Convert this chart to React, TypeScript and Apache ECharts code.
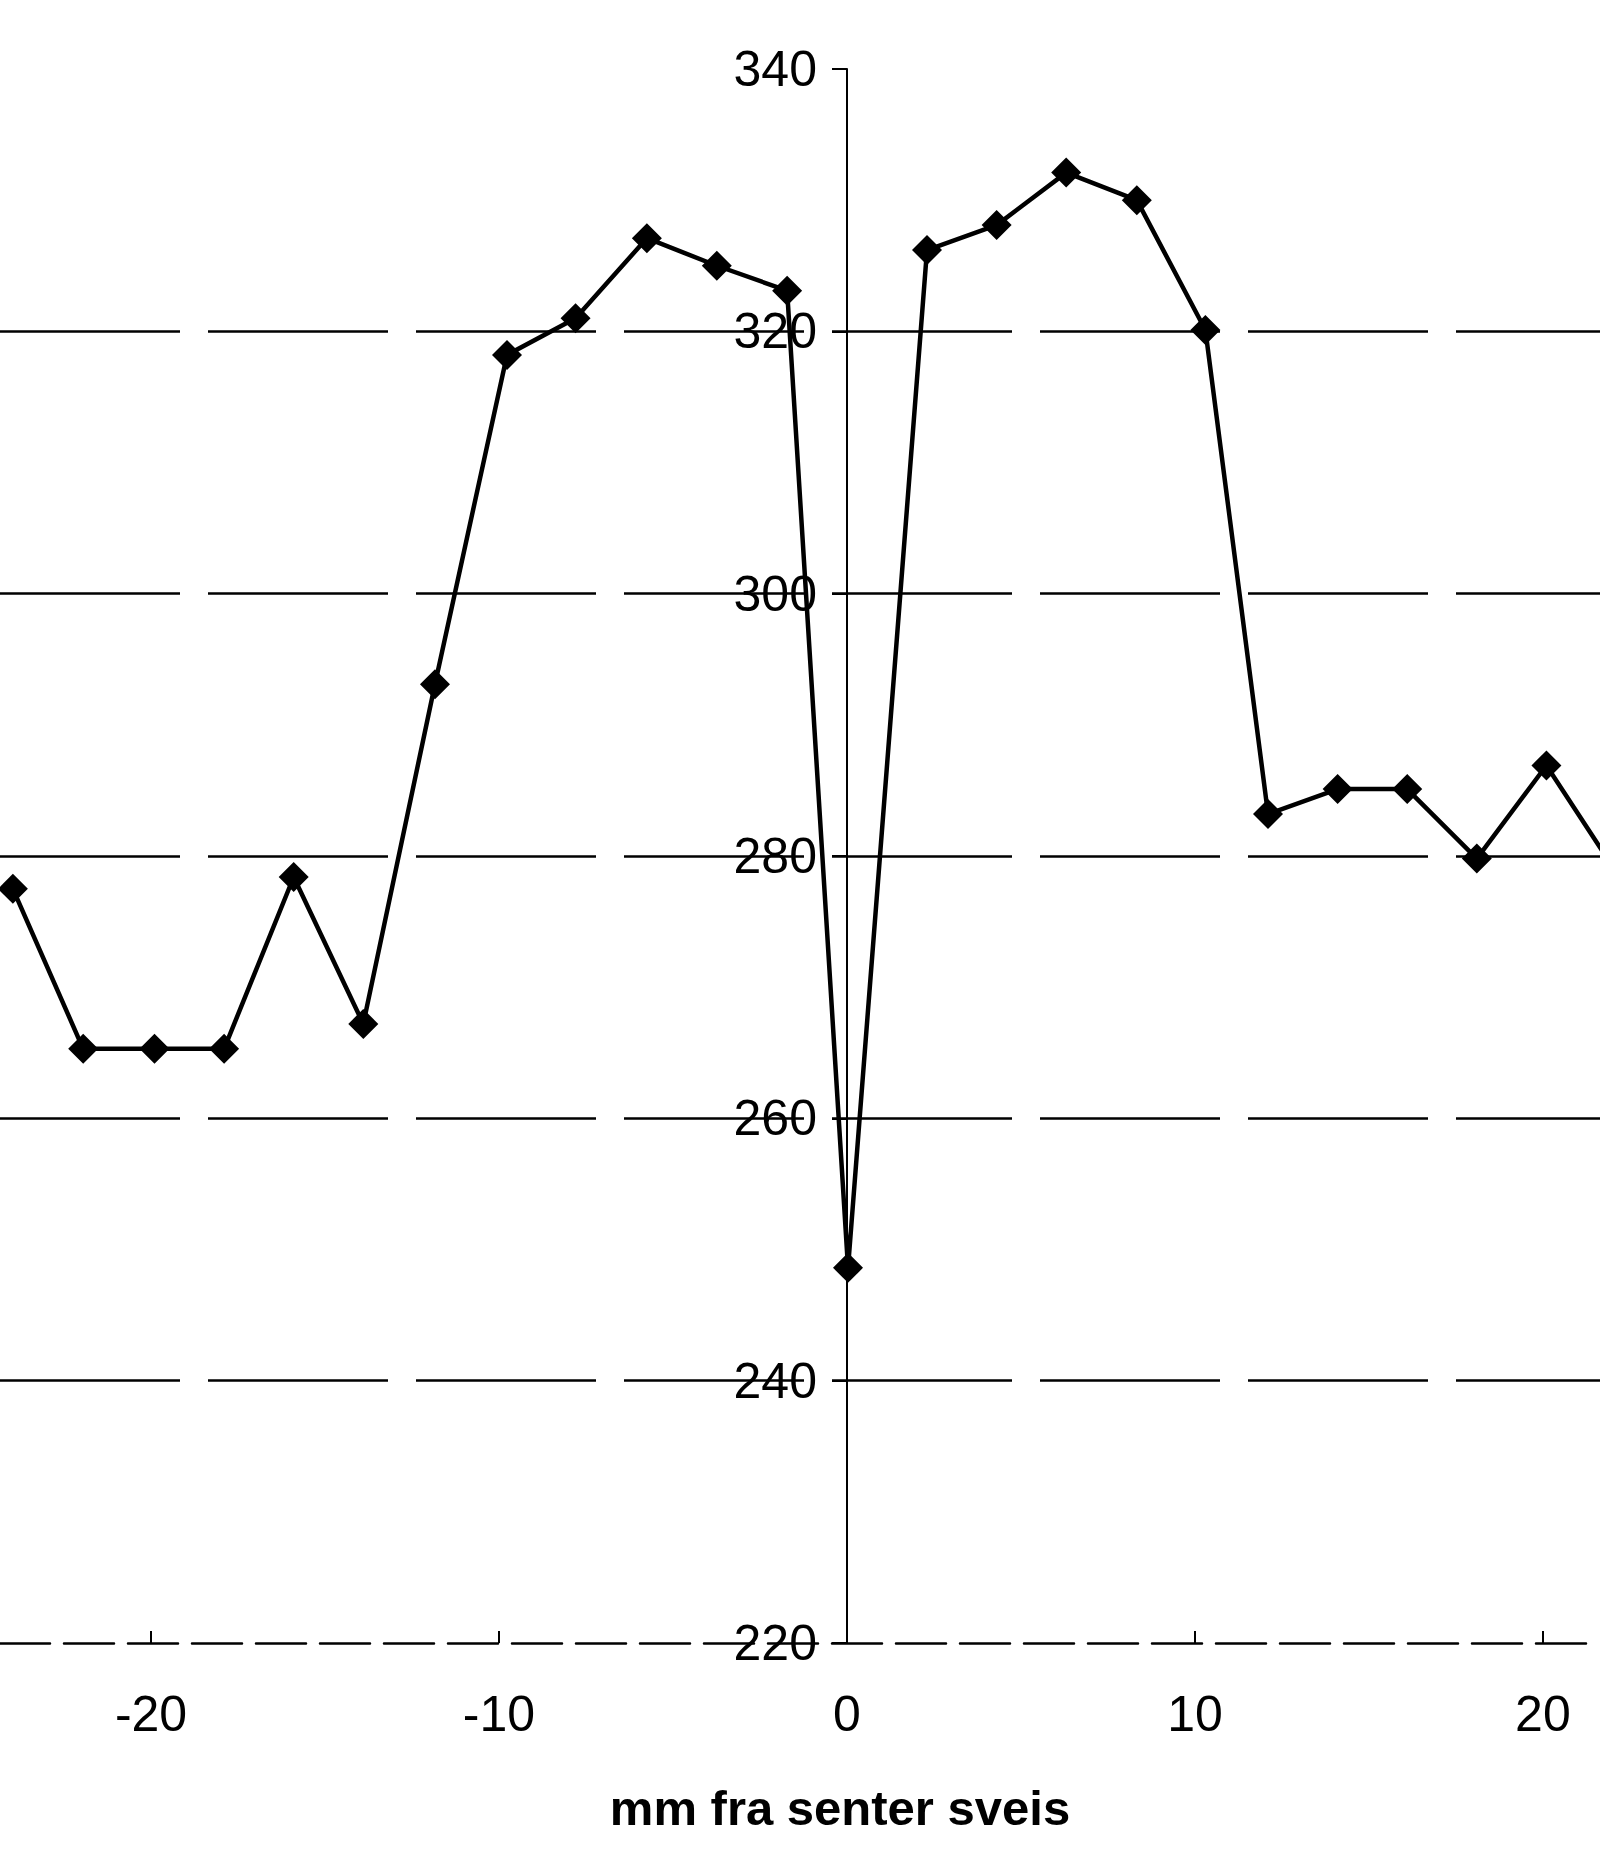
import React, { useEffect, useRef } from "react";
import * as echarts from "echarts";

// mm from weld centre
const positions = [-23.97, -21.95, -19.9, -17.9, -15.9, -13.9, -11.84, -9.77, -7.8, -5.75, -3.74, -1.72, 0.03, 2.3, 4.3, 6.3, 8.33, 10.3, 12.1, 14.1, 16.1, 18.1, 20.1, 22.1];
// hardness values
const hardness = [277.5, 265.3, 265.3, 265.3, 278.4, 267.2, 293.1, 318.2, 321.0, 327.1, 325.0, 323.1, 248.6, 326.2, 328.1, 332.1, 330.0, 320.1, 283.2, 285.1, 285.1, 279.8, 286.9, 278.8];

const xTicks = [-20, -10, 0, 10, 20];
const gridValues = [240, 260, 280, 300, 320];
const xTitle = "mm fra senter sveis";

const X_MIN = -24.34;
const X_MAX = 21.64;
const Y_MIN = 220;
const Y_MAX = 340;
const Y_STEP = 20;

const WIDTH = 1600;
const HEIGHT = 1862;

const numFont = '"Liberation Sans", Arial, sans-serif';

export default function App() {
  const ref = useRef<HTMLDivElement>(null);

  useEffect(() => {
    document.body.style.margin = "0";
    if (!ref.current) return;
    const chart = echarts.init(ref.current, null, { renderer: "svg" });
    const data = positions.map((x, i) => [x, hardness[i]]);
    // place the y axis where x = 0 (axis offset is measured from the grid's left edge)
    const yAxisOffset = -((0 - X_MIN) / (X_MAX - X_MIN)) * WIDTH;
    chart.setOption({
      animation: false,
      backgroundColor: "#ffffff",
      grid: {
        left: 0,
        right: 0,
        top: 69,
        bottom: 219,
        containLabel: false,
        outerBoundsMode: "none",
      },
      xAxis: {
        type: "value",
        min: X_MIN,
        max: X_MAX,
        axisLine: {
          show: true,
          onZero: false,
          lineStyle: { color: "#000", width: 2.5, type: [50, 14] },
        },
        axisTick: {
          show: true,
          inside: true,
          length: 12,
          customValues: xTicks,
          lineStyle: { color: "#000", width: 2 },
        },
        axisLabel: {
          customValues: xTicks,
          margin: 46,
          fontSize: 50,
          color: "#000",
          fontFamily: numFont,
        },
        splitLine: { show: false },
      },
      yAxis: {
        type: "value",
        min: Y_MIN,
        max: Y_MAX,
        interval: Y_STEP,
        offset: yAxisOffset,
        axisLine: {
          show: true,
          onZero: false,
          lineStyle: { color: "#000", width: 2 },
        },
        axisTick: {
          show: true,
          inside: false,
          length: 15,
          lineStyle: { color: "#000", width: 2 },
        },
        axisLabel: {
          margin: 30,
          fontSize: 50,
          color: "#000",
          fontFamily: numFont,
        },
        splitLine: { show: false },
      },
      graphic: [
        {
          type: "text",
          x: 840,
          y: 1808,
          style: {
            text: xTitle,
            font: 'bold 49px "Liberation Sans", Arial, sans-serif',
            fill: "#000",
            align: "center",
            verticalAlign: "middle",
          },
        },
      ],
      series: [
        {
          type: "line",
          data,
          clip: true,
          symbol: "diamond",
          symbolSize: 30,
          showAllSymbol: true,
          lineStyle: { color: "#000", width: 4.5 },
          itemStyle: { color: "#000" },
          z: 3,
          markLine: {
            silent: true,
            symbol: ["none", "none"],
            label: { show: false },
            lineStyle: { color: "#000", width: 2.5, type: [180, 28] },
            data: gridValues.map((v) => ({ yAxis: v })),
            z: 1,
          },
        },
      ],
    });
    return () => chart.dispose();
  }, []);

  return <div ref={ref} style={{ width: WIDTH, height: HEIGHT }} />;
}
